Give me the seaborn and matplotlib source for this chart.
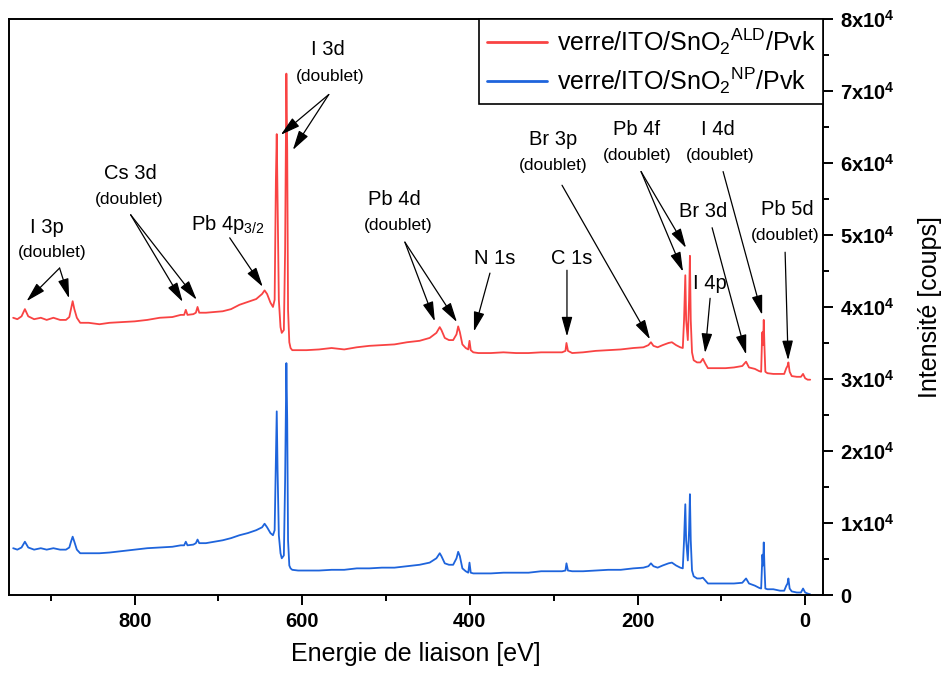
import pandas as pd
import seaborn as sns
import matplotlib.pyplot as plt
from matplotlib.ticker import MultipleLocator, FuncFormatter

energie = [945, 940, 935, 931, 927, 920, 912, 905, 897, 889,
           882, 878, 876, 874, 872, 869, 865, 855, 842, 830,
           815, 800, 785, 770, 755, 745, 741, 739, 737, 730,
           727, 725, 723, 715, 705, 695, 685, 675, 665, 655,
           648, 645, 642, 638, 635, 633, 631.5, 630.5, 629.5, 628,
           626, 624.5, 622, 620.5, 619, 618, 617, 615.5, 614, 612,
           605, 595, 580, 565, 550, 535, 520, 505, 490, 475,
           460, 448, 440, 436, 434, 430, 425, 420, 416, 414,
           412, 409, 405, 402, 400.5, 399, 396, 390, 375, 360,
           345, 330, 315, 300, 290, 286, 284.8, 283, 278, 265,
           250, 235, 220, 205, 193, 187, 184, 181, 176, 170,
           163, 159, 154, 149, 146, 144.5, 143, 142, 140, 138.5,
           137.5, 136.5, 135, 133, 129, 125, 122, 119, 116, 105,
           95, 85, 75, 70.5, 67, 60, 55, 52.5, 51.5, 51,
           50.2, 49.4, 48.6, 47.5, 45, 38, 30, 25, 22.5, 21,
           20, 18.5, 16, 10, 5, 2.5, 0, -3, -6]

intens_ald = [38500, 38300, 38700, 39700, 38700, 38300, 38500, 38200, 38500, 38200,
              38200, 38600, 39700, 40800, 39700, 38500, 37800, 37800, 37600, 37800,
              37900, 38000, 38200, 38500, 38600, 38900, 38900, 39600, 38900, 39000,
              39200, 40000, 39200, 39200, 39300, 39400, 39700, 40300, 40700, 41100,
              41800, 42300, 41800, 40600, 40000, 41000, 57700, 64000, 54900, 41000,
              37200, 36400, 36800, 47900, 72400, 61800, 39600, 35100, 34300, 34000,
              34000, 34000, 34100, 34300, 34100, 34400, 34600, 34700, 34800, 35100,
              35300, 35700, 36400, 37200, 36800, 35700, 35400, 35400, 36200, 37300,
              36500, 34800, 34300, 34100, 35300, 34000, 33700, 33600, 33600, 33700,
              33600, 33600, 33700, 33700, 33700, 33900, 35000, 33900, 33600, 33700,
              33900, 34000, 34100, 34300, 34400, 34700, 35100, 34600, 34400, 34700,
              35000, 35100, 34700, 34400, 34300, 38200, 44400, 38200, 35400, 41000,
              47100, 38200, 33700, 32600, 32300, 32300, 32800, 32100, 31500, 31500,
              31500, 31600, 31800, 32400, 31600, 31400, 31100, 31000, 35400, 36500,
              34700, 38200, 34700, 31000, 30800, 30700, 30700, 30700, 31500, 31800,
              32300, 31000, 30400, 30300, 30300, 30700, 30100, 29900, 29900]

intens_np = [6500, 6300, 6600, 7400, 6600, 6300, 6500, 6300, 6500, 6300,
             6300, 6600, 7400, 8100, 7400, 6300, 5800, 5800, 5800, 5900,
             6100, 6300, 6500, 6600, 6700, 6900, 6900, 7400, 6900, 7000,
             7200, 7700, 7200, 7200, 7400, 7600, 7900, 8300, 8600, 9000,
             9400, 9900, 9400, 8600, 8300, 9000, 18700, 25500, 17300, 8300,
             5800, 5100, 5500, 15900, 32200, 24300, 7600, 4100, 3700, 3500,
             3400, 3400, 3400, 3500, 3500, 3700, 3700, 3800, 3800, 4000,
             4200, 4500, 5100, 5800, 5400, 4400, 4200, 4200, 5100, 6000,
             5400, 3700, 3300, 3100, 4500, 3100, 3000, 3000, 3000, 3100,
             3100, 3100, 3300, 3300, 3300, 3400, 4400, 3400, 3300, 3300,
             3400, 3500, 3500, 3700, 3800, 4000, 4400, 4000, 3800, 4100,
             4400, 4500, 4100, 3800, 3700, 7600, 12600, 7600, 4800, 9000,
             14000, 7600, 3400, 2600, 2300, 2300, 2400, 2000, 1600, 1600,
             1600, 1600, 1700, 2300, 1600, 1300, 1000, 900, 4100, 5600,
             4100, 7300, 4100, 900, 800, 800, 600, 600, 1300, 1600,
             2300, 900, 500, 350, 350, 900, 350, 200, 100]

echantillons = ['verre/ITO/SnO$_2$$^{\\mathrm{ALD}}$/Pvk',
                'verre/ITO/SnO$_2$$^{\\mathrm{NP}}$/Pvk']
couleurs = ['#f94343', '#1e64dc']

# attributions : texte, position du texte, position de "(doublet)", depart des fleches, pointes
pics = [
    ('I 3p', (905, 50970), (898, 47500), (889.6, 45400), [(929, 40800), (878.2, 41200)]),
    ('Cs 3d', (804.8, 58500), (806, 54900), (804.8, 52800), [(742.7, 40700), (726, 41000)]),
    ('Pb 4p$_{3/2}$', (689, 51400), None, (686.6, 49600), [(647.2, 42800)]),
    ('I 3d', (569.6, 75700), (567.2, 72000), (568.4, 69500), [(625.7, 63900), (611.3, 61800)]),
    ('Pb 4d', (489.6, 54900), (486, 51300), (477.6, 49000), [(441.8, 38000), (415.5, 37900)]),
    ('N 1s', (370.1, 46700), None, (376.1, 44700), [(395.2, 36600)]),
    ('C 1s', (278.2, 46700), None, (284.2, 45100), [(284.2, 35900)]),
    ('Br 3p', (300.9, 63200), (300.9, 59600), (290.1, 56900), [(185.1, 35500)]),
    ('Pb 4f', (200.6, 64600), (200.6, 61000), (195.8, 58800), [(145.7, 44900), (142.1, 48200)]),
    ('I 4d', (103.9, 64600), (101.5, 61000), (97.9, 58800), [(51.3, 38900)]),
    ('Br 3d', (121.8, 53200), None, (111, 51000), [(70.4, 33400)]),
    ('I 4p', (113.4, 43300), None, (113.4, 41200), [(119.4, 33600)]),
    ('Pb 5d', (21.5, 53500), (23.9, 49900), (23.9, 47600), [(20.3, 32600)]),
]

assert len(energie) == len(intens_ald) == len(intens_np)

df = pd.concat([
    pd.DataFrame({'energie': energie, 'intensite': intens_ald, 'echantillon': echantillons[0]}),
    pd.DataFrame({'energie': energie, 'intensite': intens_np, 'echantillon': echantillons[1]}),
])

sns.set_style('ticks')
plt.rcParams['font.family'] = ['Liberation Sans', 'DejaVu Sans']
plt.rcParams['mathtext.fontset'] = 'custom'
plt.rcParams['mathtext.rm'] = 'Liberation Sans'
plt.rcParams['mathtext.it'] = 'Liberation Sans:italic'
plt.rcParams['mathtext.bf'] = 'Liberation Sans:bold'
for k in ['text.color', 'axes.labelcolor', 'xtick.color', 'ytick.color', 'axes.edgecolor']:
    plt.rcParams[k] = 'black'

fig, ax = plt.subplots(figsize=(9.44, 6.75), dpi=100)
fig.subplots_adjust(left=0.0095, right=0.872, bottom=0.1185, top=0.972)

sns.lineplot(data=df, x='energie', y='intensite', hue='echantillon',
             palette=dict(zip(echantillons, couleurs)), sort=False,
             estimator=None, linewidth=1.3, ax=ax)

ax.set_xlim(950, -21.5)
ax.set_ylim(0, 80000)

ax.xaxis.set_major_locator(MultipleLocator(200))
ax.xaxis.set_minor_locator(MultipleLocator(100))
ax.yaxis.set_major_locator(MultipleLocator(10000))
ax.yaxis.set_minor_locator(MultipleLocator(5000))
ax.yaxis.tick_right()
ax.yaxis.set_label_position('right')
ax.yaxis.set_major_formatter(FuncFormatter(
    lambda v, p: '0' if v == 0 else r'$\mathbf{%dx10^{4}}$' % round(v / 10000)))

ax.tick_params(which='major', direction='out', length=7, width=1.4, labelsize=14.5, pad=5)
ax.tick_params(which='minor', direction='out', length=4.5, width=1.4)
for lab in ax.get_xticklabels() + ax.get_yticklabels():
    lab.set_fontweight('bold')
for sp in ax.spines.values():
    sp.set_linewidth(1.4)
    sp.set_color('black')

ax.set_xlabel('Energie de liaison [eV]', fontsize=18, labelpad=8)
ax.set_ylabel('Intensité [coups]', fontsize=18, labelpad=17)

for nom, pos, pos_d, depart, pointes in pics:
    ax.text(pos[0], pos[1], nom, ha='center', va='center', fontsize=14.5)
    if pos_d is not None:
        ax.text(pos_d[0], pos_d[1], '(doublet)', ha='center', va='center', fontsize=12.5)
    for pt in pointes:
        ax.annotate('', xy=pt, xytext=depart,
                    arrowprops=dict(arrowstyle='-|>,head_length=0.8,head_width=0.22',
                                    color='black', lw=0.9, mutation_scale=15,
                                    shrinkA=0, shrinkB=0))

h, l = ax.get_legend_handles_labels()
leg = ax.legend(h, l, loc='upper right', fontsize=18, frameon=True, fancybox=False,
                edgecolor='black', framealpha=1, borderaxespad=0, handlelength=2.4,
                labelspacing=0.35, borderpad=0.3, handletextpad=0.4)
leg.get_frame().set_linewidth(1.2)
for ln in leg.get_lines():
    ln.set_linewidth(2)

plt.savefig('out.png', dpi=100)
